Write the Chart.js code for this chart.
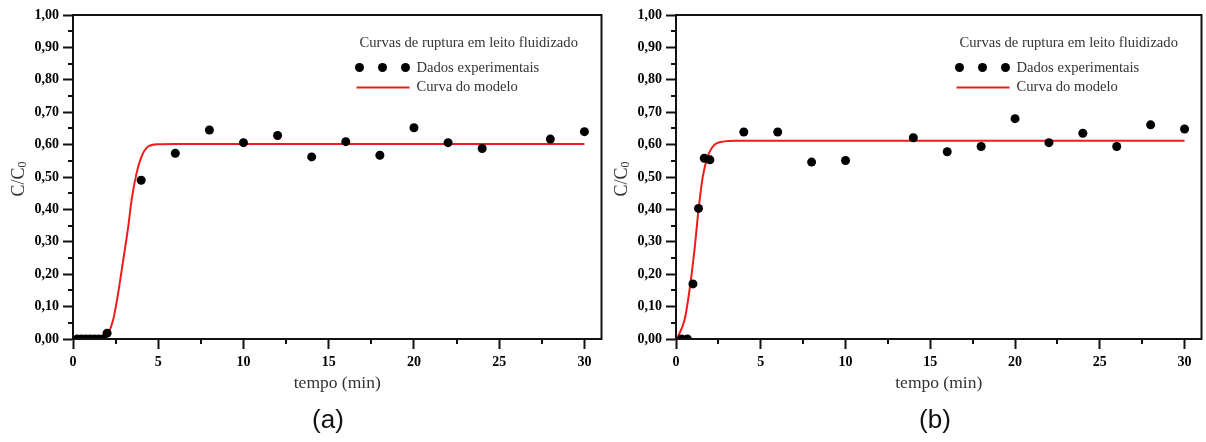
<!DOCTYPE html>
<html>
<head>
<meta charset="utf-8">
<script src="https://cdn.jsdelivr.net/npm/chart.js@4/dist/chart.umd.min.js"></script>
<style>
  body { margin: 0; background: #fff; }
  #wrap { position: relative; width: 1206px; height: 442px; overflow: hidden; }
  canvas { position: absolute; top: 0; }
  .painel { position: absolute; top: 404px; width: 60px; text-align: center; font: 26px 'Liberation Sans', Arial, sans-serif; color: #111; }
</style>
</head>
<body>
<div id="wrap">
  <canvas id="graficoA" width="606" height="442" style="left:0"></canvas>
  <canvas id="graficoB" width="600" height="442" style="left:606px"></canvas>
  <div class="painel" style="left:298px">(a)</div>
  <div class="painel" style="left:905px">(b)</div>
</div>
<script>
// Leito fluidizado

// (a) pontos experimentais
const tempoA = [0.25, 0.5, 0.75, 1.0, 1.25, 1.5, 1.75, 2.0, 4, 6, 8, 10, 12, 14, 16, 18, 20, 22, 24, 28, 30];
const valoresA = [0, 0, 0, 0, 0, 0, 0, 0.018, 0.49, 0.573, 0.645, 0.606, 0.628, 0.562, 0.609, 0.567, 0.652, 0.606, 0.588, 0.617, 0.64];
// (a) curva do modelo
const modeloTempoA = [0.25, 1.0, 1.75, 2.07, 2.36, 2.65, 2.95, 3.24, 3.44, 3.73, 4.02, 4.41, 5.0, 6.0, 30];
const modeloA = [0, 0, 0.003, 0.018, 0.06, 0.142, 0.245, 0.347, 0.43, 0.512, 0.563, 0.594, 0.601, 0.602, 0.602];

// (b) pontos experimentais
const tempoB = [0.33, 0.67, 1.0, 1.33, 1.67, 2.0, 4, 6, 8, 10, 14, 16, 18, 20, 22, 24, 26, 28, 30];
const valoresB = [0, 0, 0.17, 0.403, 0.558, 0.553, 0.639, 0.639, 0.546, 0.551, 0.621, 0.578, 0.594, 0.68, 0.606, 0.635, 0.594, 0.661, 0.648];
// (b) curva do modelo
const modeloTempoB = [0.05, 0.12, 0.51, 0.8, 1.09, 1.33, 1.58, 1.87, 2.26, 2.85, 3.5, 30];
const modeloB = [0, 0.008, 0.06, 0.152, 0.275, 0.399, 0.501, 0.563, 0.599, 0.61, 0.612, 0.612];

// eixos
const yTicks = [0, 0.1, 0.2, 0.3, 0.4, 0.5, 0.6, 0.7, 0.8, 0.9, 1.0];
const xTicks = [0, 5, 10, 15, 20, 25, 30];
const yMinor = [0.05, 0.15, 0.25, 0.35, 0.45, 0.55, 0.65, 0.75, 0.85, 0.95];
const xMinor = [2.5, 7.5, 12.5, 17.5, 22.5, 27.5];

const tituloLegenda = 'Curvas de ruptura em leito fluidizado';
const rotuloDados = 'Dados experimentais';
const rotuloModelo = 'Curva do modelo';
const tituloX = 'tempo (min)';

const SERIF = "'Liberation Serif', 'Times New Roman', serif";
const INK = '#111';

function toPts(xs, ys) {
    return xs.map((x, i) => ({ x: x, y: ys[i] }));
}

// moldura, ticks menores, titulo do eixo y e legenda
const extras = {
    id: 'extras',
    afterDraw(chart) {
        const ctx = chart.ctx;
        const a = chart.chartArea;
        const sx = chart.scales.x;
        const sy = chart.scales.y;
        ctx.save();
        ctx.strokeStyle = INK;
        ctx.lineWidth = 2;
        ctx.strokeRect(a.left, a.top, a.right - a.left, a.bottom - a.top);

        // ticks menores
        ctx.beginPath();
        yMinor.forEach(v => {
            const py = Math.round(sy.getPixelForValue(v));
            ctx.moveTo(a.left - 5, py);
            ctx.lineTo(a.left, py);
        });
        xMinor.forEach(v => {
            const px = Math.round(sx.getPixelForValue(v));
            ctx.moveTo(px, a.bottom);
            ctx.lineTo(px, a.bottom + 5);
        });
        ctx.stroke();

        // C/C0
        ctx.save();
        ctx.translate(a.left - 54, (a.top + a.bottom) / 2 + 2);
        ctx.rotate(-Math.PI / 2);
        ctx.fillStyle = '#333';
        ctx.textBaseline = 'middle';
        ctx.font = '18px ' + SERIF;
        const w1 = ctx.measureText('C/C').width;
        ctx.font = '12px ' + SERIF;
        const w2 = ctx.measureText('0').width;
        let x0 = -(w1 + w2) / 2;
        ctx.font = '18px ' + SERIF;
        ctx.textAlign = 'left';
        ctx.fillText('C/C', x0, 0);
        ctx.font = '12px ' + SERIF;
        ctx.fillText('0', x0 + w1, 4);
        ctx.restore();

        // legenda
        const lx = a.right - 242;
        ctx.fillStyle = '#333';
        ctx.textAlign = 'left';
        ctx.textBaseline = 'middle';
        ctx.font = '14.6px ' + SERIF;
        ctx.fillText(tituloLegenda, lx, 43);
        ctx.fillText(rotuloDados, lx + 57, 68);
        ctx.fillText(rotuloModelo, lx + 57, 87.5);
        ctx.fillStyle = '#000';
        [0, 23, 46].forEach(d => {
            ctx.beginPath();
            ctx.arc(lx + d, 67.5, 4.5, 0, Math.PI * 2);
            ctx.fill();
        });
        ctx.strokeStyle = '#ee1c1c';
        ctx.lineWidth = 2;
        ctx.beginPath();
        ctx.moveTo(lx - 3, 87.5);
        ctx.lineTo(lx + 50, 87.5);
        ctx.stroke();
        ctx.restore();
    }
};

function buildChart(id, tempo, valores, modT, modV, yWidth, padRight) {
    const ctx = document.getElementById(id).getContext('2d');
    return new Chart(ctx, {
        type: 'scatter',
        data: {
            datasets: [{
                label: rotuloDados,
                data: toPts(tempo, valores),
                pointRadius: 4.5,
                pointBorderWidth: 0,
                pointBackgroundColor: '#000',
                borderColor: '#000',
                showLine: false
            }, {
                label: rotuloModelo,
                data: toPts(modT, modV),
                showLine: true,
                pointRadius: 0,
                borderColor: '#ee1c1c',
                borderWidth: 2,
                cubicInterpolationMode: 'monotone'
            }]
        },
        options: {
            responsive: false,
            animation: false,
            devicePixelRatio: 1,
            layout: { padding: { left: 0, right: padRight, top: 15, bottom: 46 } },
            plugins: { legend: { display: false }, tooltip: { enabled: false } },
            scales: {
                x: {
                    type: 'linear',
                    min: 0,
                    max: 31,
                    afterBuildTicks: s => { s.ticks = xTicks.map(v => ({ value: v })); },
                    afterFit: s => { s.height = 57; },
                    border: { display: true, color: INK, width: 2 },
                    grid: { drawOnChartArea: false, drawTicks: true, tickLength: 10, tickColor: INK, tickWidth: 2 },
                    ticks: {
                        color: '#000',
                        padding: 5,
                        maxRotation: 0,
                        font: { family: SERIF, size: 14, weight: 'bold' },
                        callback: v => String(v)
                    },
                    title: {
                        display: true,
                        text: tituloX,
                        color: '#333',
                        font: { family: SERIF, size: 17.5 },
                        padding: { top: 0, bottom: 2 }
                    }
                },
                y: {
                    type: 'linear',
                    min: 0,
                    max: 1,
                    afterBuildTicks: s => { s.ticks = yTicks.map(v => ({ value: v })); },
                    afterFit: s => { s.width = yWidth; },
                    border: { display: true, color: INK, width: 2 },
                    grid: { drawOnChartArea: false, drawTicks: true, tickLength: 10, tickColor: INK, tickWidth: 2 },
                    ticks: {
                        color: '#000',
                        padding: 4,
                        font: { family: SERIF, size: 14, weight: 'bold' },
                        callback: v => v.toFixed(2).replace('.', ',')
                    }
                }
            }
        },
        plugins: [extras]
    });
}

buildChart('graficoA', tempoA, valoresA, modeloTempoA, modeloA, 73, 3);
buildChart('graficoB', tempoB, valoresB, modeloTempoB, modeloB, 70, 1.3);
</script>
</body>
</html>
